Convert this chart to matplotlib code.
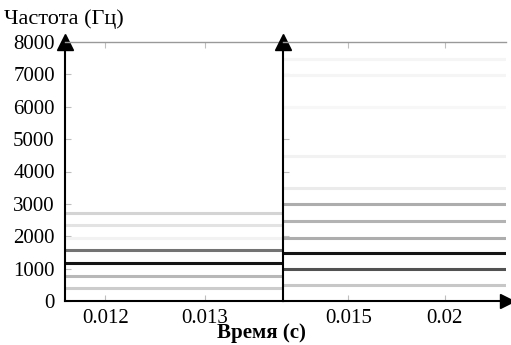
import numpy as np
import matplotlib.pyplot as plt

plt.rcParams['font.family'] = ['Liberation Serif', 'DejaVu Serif']

# первый участок (основной тон ~390 Гц)
freq_left = [390, 780, 1170, 1560, 1950, 2340, 2730]
level_left = [0.20, 0.28, 0.92, 0.55, 0.05, 0.11, 0.17]
# второй участок (основной тон ~490 Гц)
freq_right = [480, 975, 1470, 1960, 2460, 2985, 3500, 4470, 6000, 6990, 7480]
level_right = [0.22, 0.68, 0.92, 0.32, 0.30, 0.32, 0.08, 0.05, 0.03, 0.04, 0.04]

xlim_left = (0.01159, 0.01378)
xlim_right = (0.01161, 0.02318)
xticks_left = [0.012, 0.013]
xticks_right = [0.015, 0.02]
xticklabels_left = ['0.012', '0.013']
xticklabels_right = ['0.015', '0.02']
yticks = [0, 1000, 2000, 3000, 4000, 5000, 6000, 7000, 8000]

W, H = 511, 345
fig = plt.figure(figsize=(W / 100, H / 100), dpi=100)

def px(x0, y0, x1, y1):
    return [x0 / W, 1 - y1 / H, (x1 - x0) / W, (y1 - y0) / H]

ax1 = fig.add_axes(px(64.5, 42, 283, 301))
ax2 = fig.add_axes(px(283, 42, 506, 301))

for ax, fr, lv, xl, xt, xtl in [(ax1, freq_left, level_left, xlim_left, xticks_left, xticklabels_left),
                                (ax2, freq_right, level_right, xlim_right, xticks_right, xticklabels_right)]:
    for f, l in zip(fr, lv):
        ax.hlines(f, xl[0], xl[1], color=str(1 - l), linewidth=2.2)
    ax.set_xlim(xl)
    ax.set_ylim(0, 8000)
    ax.set_xticks(xt)
    ax.set_xticklabels(xtl, fontsize=15)
    ax.tick_params(axis='both', direction='in', color='0.75', length=4, width=0.8,
                   labelsize=15, top=True)
    ax.tick_params(axis='x', pad=6)
    for s in ['left', 'right', 'bottom']:
        ax.spines[s].set_visible(False)
    ax.spines['top'].set_color('0.6')
    ax.spines['top'].set_linewidth(1.0)

ax1.set_yticks(yticks)
ax1.set_yticklabels([str(v) for v in yticks], fontsize=15)
ax1.tick_params(axis='y', pad=7)
ax2.set_yticks(yticks)
ax2.set_yticklabels([])

# оси со стрелками
ax1.plot([0, 0], [0, 1], color='k', lw=1.5, transform=ax1.transAxes, clip_on=False)
ax1.plot(0, 1, marker='^', color='k', ms=11, transform=ax1.transAxes, clip_on=False)
ax2.plot([0, 0], [0, 1], color='k', lw=1.5, transform=ax2.transAxes, clip_on=False)
ax2.plot(0, 1, marker='^', color='k', ms=11, transform=ax2.transAxes, clip_on=False)
ax1.plot([0, 1], [0, 0], color='k', lw=1.5, transform=ax1.transAxes, clip_on=False)
ax2.plot([0, 1], [0, 0], color='k', lw=1.5, transform=ax2.transAxes, clip_on=False)
ax2.plot(1.005, 0, marker='>', color='k', ms=10, transform=ax2.transAxes, clip_on=False)

fig.text(4 / W, 1 - 19 / H, 'Частота (Гц)', fontsize=16, ha='left', va='center')
fig.text(261 / W, 1 - 333 / H, 'Время (с)', fontsize=15, fontweight='bold',
         ha='center', va='center')

fig.savefig('out.png', dpi=100)
